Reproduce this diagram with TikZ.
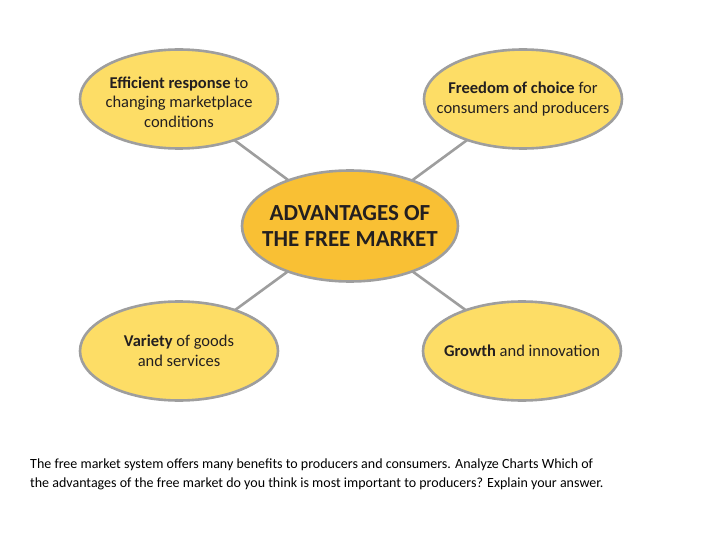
\documentclass[tikz,border=0pt]{standalone}
\usepackage{fontspec}
\setmainfont{Carlito}
\usetikzlibrary{shapes.geometric}
\definecolor{outerfill}{RGB}{253,221,102}
\definecolor{innerfill}{RGB}{249,192,52}
\definecolor{edgegray}{RGB}{158,158,158}
\definecolor{inkdark}{RGB}{35,31,32}
\tikzset{
  outerell/.style={ellipse, draw=edgegray, line width=2.6pt, fill=outerfill, minimum width=198pt, minimum height=99pt, inner sep=0pt},
  innerell/.style={ellipse, draw=edgegray, line width=2.6pt, fill=innerfill, minimum width=216pt, minimum height=111pt, inner sep=0pt},
  conn/.style={draw=edgegray, line width=2.6pt},
  outertext/.style={align=center, text=inkdark, font=\fontsize{16.5}{19.5}\selectfont, inner sep=0pt},
  innertext/.style={align=center, text=inkdark, font=\bfseries\fontsize{23}{26}\selectfont, inner sep=0pt},
}
\begin{document}
\begin{tikzpicture}[x=1pt,y=-1pt]
\useasboundingbox (0,0) rectangle (720,540);
\coordinate (ctl) at (179,99);
\coordinate (ctr) at (523,99);
\coordinate (cbl) at (179,351);
\coordinate (cbr) at (522,351);
\coordinate (cc) at (350,226);
\draw[conn] (ctl) -- (cc);
\draw[conn] (ctr) -- (cc);
\draw[conn] (cbl) -- (cc);
\draw[conn] (cbr) -- (cc);
\node[outerell] (tl) at (ctl) {};
\node[outerell] (tr) at (ctr) {};
\node[outerell] (bl) at (cbl) {};
\node[outerell] (br) at (cbr) {};
\node[innerell] (center) at (cc) {};
\node[outertext] (tltext) at ([yshift=-3pt]tl.center) {\textbf{Efficient response} to\\changing marketplace\\conditions};
\node[outertext] (trtext) at (tr.center) {\textbf{Freedom of choice} for\\consumers and producers};
\node[outertext] (bltext) at (bl.center) {\textbf{Variety} of goods\\and services};
\node[outertext] (brtext) at (br.center) {\textbf{Growth} and innovation};
\node[innertext] (centertext) at (center.center) {ADVANTAGES OF\\THE FREE MARKET};
\node[anchor=north west, align=left, inner sep=0pt, text=black, font=\fontsize{14}{18.5}\selectfont] (caption) at (30,459) {The free market system offers many benefits to producers and consumers. Analyze Charts Which of\\the advantages of the free market do you think is most important to producers? Explain your answer.};
\end{tikzpicture}
\end{document}
